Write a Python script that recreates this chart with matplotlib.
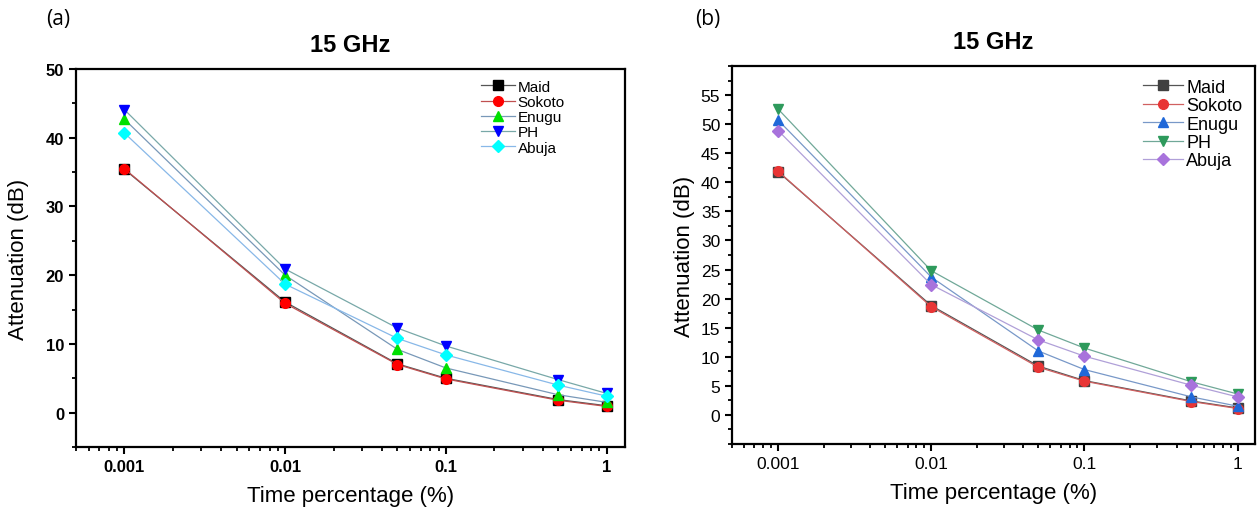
import matplotlib.pyplot as plt
from matplotlib.ticker import MultipleLocator, LogLocator, FixedLocator, FixedFormatter, NullFormatter

# time percentage (%)
time_pct = [0.001, 0.01, 0.05, 0.1, 0.5, 1]
cities = ['Maid', 'Sokoto', 'Enugu', 'PH', 'Abuja']

# panel (a) attenuation (dB)
a_maid = [35.4, 16.1, 7.1, 5.0, 1.9, 1.0]
a_sokoto = [35.5, 15.9, 7.0, 4.9, 1.8, 0.9]
a_enugu = [42.7, 20.0, 9.2, 6.5, 2.6, 1.5]
a_ph = [44.1, 20.9, 12.3, 9.7, 4.8, 2.8]
a_abuja = [40.7, 18.7, 10.8, 8.4, 4.0, 2.4]

# panel (b) attenuation (dB)
b_maid = [41.8, 18.8, 8.4, 5.9, 2.4, 1.2]
b_sokoto = [41.9, 18.6, 8.2, 5.8, 2.3, 1.1]
b_enugu = [50.7, 23.7, 11.0, 7.8, 3.1, 1.5]
b_ph = [52.6, 24.8, 14.6, 11.5, 5.7, 3.6]
b_abuja = [48.9, 22.4, 12.9, 10.1, 5.1, 3.1]

xticks = [0.001, 0.01, 0.1, 1]
xticklabels = ['0.001', '0.01', '0.1', '1']

markers = ['s', 'o', '^', 'v', 'D']
a_colors = ['#000000', '#ff0000', '#00e000', '#0000ff', '#00ffff']
a_lines = ['#555555', '#c05050', '#7898b8', '#78a8a8', '#88b8e8']
b_colors = ['#404040', '#e83535', '#2068d8', '#2e9a5c', '#a873dc']
b_lines = ['#555555', '#d06060', '#7898c8', '#70a898', '#b0a0d8']

fig = plt.figure(figsize=(12.6, 5.1), dpi=100)
ax1 = fig.add_axes([0.0603, 0.1216, 0.4357, 0.741])
ax2 = fig.add_axes([0.581, 0.1275, 0.415, 0.741])

font = 'Liberation Sans'


def draw(ax, series, colors, lines, bold, fs_tick, fs_leg, leg_anchor, ypad):
    for i, ys in enumerate(series):
        ax.plot(time_pct, ys, color=lines[i], lw=0.9, marker=markers[i],
                markersize=7 if markers[i] != 'D' else 6,
                markerfacecolor=colors[i], markeredgecolor=colors[i],
                label=cities[i])
    ax.set_xscale('log')
    ax.set_xlim(0.0005, 1.3)
    ax.xaxis.set_major_locator(FixedLocator(xticks))
    ax.xaxis.set_major_formatter(FixedFormatter(xticklabels))
    ax.xaxis.set_minor_locator(LogLocator(base=10, subs=range(2, 10)))
    ax.xaxis.set_minor_formatter(NullFormatter())
    for s in ax.spines.values():
        s.set_linewidth(1.6)
    ax.tick_params(which='major', direction='out', length=5, width=1.5,
                   top=False, right=False)
    ax.tick_params(which='minor', direction='out', length=3, width=1.3,
                   top=False, right=False)
    w = 'bold' if bold else 'normal'
    for lab in ax.get_xticklabels() + ax.get_yticklabels():
        lab.set_fontfamily(font)
        lab.set_fontweight(w)
        lab.set_fontsize(fs_tick)
    ax.set_xlabel('Time percentage (%)', fontfamily=font, fontsize=16, labelpad=8)
    ax.set_ylabel('Attenuation (dB)', fontfamily=font, fontsize=16, labelpad=ypad)
    ax.set_title('15 GHz', fontfamily=font, fontweight='bold', fontsize=17, pad=13)
    ax.legend(loc='upper right', bbox_to_anchor=leg_anchor, frameon=False,
              prop={'family': font, 'size': fs_leg},
              handlelength=2.2, handletextpad=0.2, labelspacing=0.08,
              borderaxespad=0.3)


ax1.set_ylim(-5, 50)
ax1.yaxis.set_major_locator(MultipleLocator(10))
ax1.yaxis.set_minor_locator(MultipleLocator(5))
draw(ax1, [a_maid, a_sokoto, a_enugu, a_ph, a_abuja], a_colors, a_lines, True, 12, 11,
     (0.91, 1.0), 12)

ax2.set_ylim(-5, 60)
ax2.yaxis.set_major_locator(MultipleLocator(5))
ax2.yaxis.set_minor_locator(MultipleLocator(2.5))
draw(ax2, [b_maid, b_sokoto, b_enugu, b_ph, b_abuja], b_colors, b_lines, False, 12.5, 13,
     (1.0, 1.0), 4)
ax2.set_yticks(range(0, 56, 5))
ax2.set_ylim(-5, 60)
for lab in ax2.get_yticklabels():
    lab.set_fontfamily(font)
    lab.set_fontsize(12.5)

fig.text(0.037, 0.962, '(a)', fontfamily='Open Sans', fontsize=15, va='center')
fig.text(0.552, 0.962, '(b)', fontfamily='Open Sans', fontsize=15, va='center')

fig.savefig('out.png', dpi=100)
